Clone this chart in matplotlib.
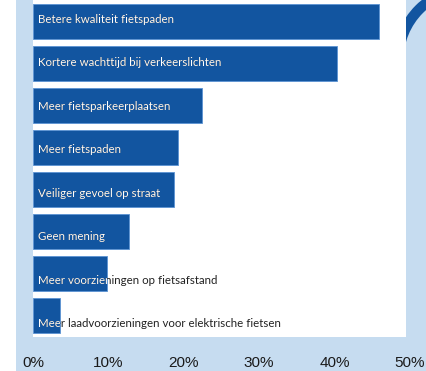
import matplotlib
matplotlib.use("Agg")
import matplotlib.pyplot as plt
import matplotlib.transforms as mtransforms
from matplotlib.patches import Rectangle, Wedge
import numpy as np

labels = [
    "Betere kwaliteit fietspaden",
    "Kortere wachttijd bij verkeerslichten",
    "Meer fietsparkeerplaatsen",
    "Meer fietspaden",
    "Veiliger gevoel op straat",
    "Geen mening",
    "Meer voorzieningen op fietsafstand",
    "Meer laadvoorzieningen voor elektrische fietsen",
]
values = [45.9, 40.3, 22.4, 19.2, 18.7, 12.7, 9.8, 3.6]
ticks = [0, 10, 20, 30, 40, 50]
tick_labels = ["0%", "10%", "20%", "30%", "40%", "50%"]

BLUE = "#1255a0"
LIGHT = "#c6dcf0"
W, H = 426, 371

fig = plt.figure(figsize=(W / 100, H / 100), dpi=100)
fig.patch.set_facecolor("white")

# page background: light blue panel, ring decoration, white plot card
bg = fig.add_axes([0, 0, 1, 1], zorder=0)
bg.set_xlim(0, W)
bg.set_ylim(H, 0)
bg.axis("off")
bg.add_patch(Rectangle((16, 0), W - 16, H, color=LIGHT, lw=0))
bg.add_patch(Wedge((470, 60), 77, 180, 270, width=10.5, color=BLUE, lw=0))
bg.add_patch(Rectangle((33, 0), 373, 337, color="white", lw=0))

ax = fig.add_axes([33 / W, 34 / H, 377 / W, 337 / H], zorder=1)
ax.patch.set_alpha(0)
y = np.arange(len(labels))
bars = ax.barh(y, values, height=0.83, color=BLUE, edgecolor="#5b93d3", linewidth=0.6)
ax.set_xlim(0, 50)
ax.set_ylim(len(labels) - 0.5, -0.5)

# category names sit inside the bars; the part running past a bar turns dark
for i, (bar, name) in enumerate(zip(bars, labels)):
    tr = mtransforms.offset_copy(ax.transData, fig, x=5, y=1.5 - 1.3 * i, units="dots")
    kw = dict(va="center", ha="left", fontsize=8.3, family="Lato", transform=tr)
    ax.text(0, i, name, color="#222222", **kw)
    t = ax.text(0, i, name, color="white", **kw)
    t.set_clip_on(True)
    t.set_clip_box(mtransforms.TransformedBbox(bar.get_bbox(), ax.transData))
    t.set_clip_path(bar)

ax.set_xticks(ticks, tick_labels)
ax.set_yticks([])
ax.tick_params(axis="x", length=0, pad=13.5, labelsize=11, labelcolor="#1a1a1a")
for lbl in ax.get_xticklabels():
    lbl.set_family("Liberation Sans")
for s in ax.spines.values():
    s.set_visible(False)

fig.savefig("out.png", dpi=100)
